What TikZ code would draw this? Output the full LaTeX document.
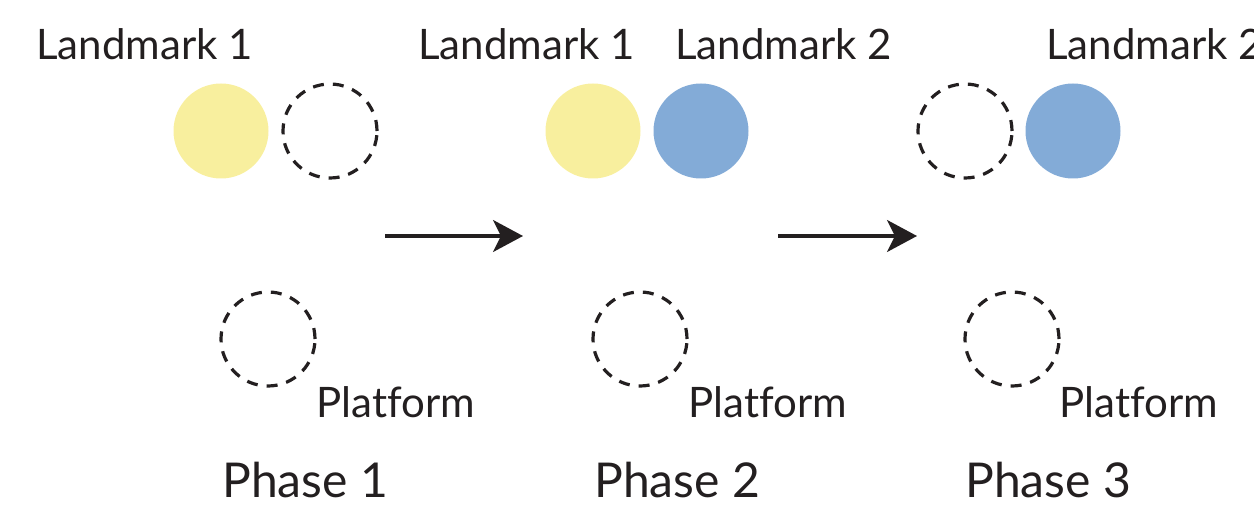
\documentclass[tikz,border=0pt]{standalone}
\usepackage{fontspec}
\setmainfont{Lato}[Ligatures={NoCommon}]
\usetikzlibrary{arrows.meta}
\definecolor{lmyellow}{HTML}{F8EF9E}
\definecolor{lmblue}{HTML}{83ABD7}
\definecolor{ink}{HTML}{231F20}
\begin{document}
\begin{tikzpicture}[x=0.5pt,y=-0.5pt,
  filledyellow/.style={circle,fill=lmyellow,minimum size=47.5pt,inner sep=0pt},
  filledblue/.style={circle,fill=lmblue,minimum size=47.5pt,inner sep=0pt},
  emptyspot/.style={circle,draw=ink,line width=1.6pt,dash pattern=on 5.5pt off 4.5pt,minimum size=47pt,inner sep=0pt},
  lbl/.style={anchor=base west,inner sep=0pt,text=ink,font=\fontsize{21}{24}\selectfont},
  phaselbl/.style={anchor=base west,inner sep=0pt,text=ink,font=\fontsize{24}{28}\selectfont},
  flow/.style={draw=ink,line width=1.6pt,-{Stealth[length=15pt,width=16pt,inset=4pt]}}]
\useasboundingbox (0,0) rectangle (1254,513);
% Phase 1
\node[lbl] (lm1a) at (36,60) {Landmark 1};
\node[filledyellow] (y1) at (221,131) {};
\node[emptyspot] (e1) at (330,131) {};
\node[emptyspot] (p1) at (268,339) {};
\node[lbl] (pl1) at (316,417) {Platform};
\node[phaselbl] (ph1) at (222,497) {Phase 1};
% Phase 2
\node[lbl] (lm1b) at (418,60) {Landmark 1};
\node[lbl] (lm2b) at (675,60) {Landmark 2};
\node[filledyellow] (y2) at (593,131) {};
\node[filledblue] (b2) at (701,131) {};
\node[emptyspot] (p2) at (640,339) {};
\node[lbl] (pl2) at (688,417) {Platform};
\node[phaselbl] (ph2) at (594,497) {Phase 2};
% Phase 3
\node[lbl] (lm2c) at (1046,60) {Landmark 2};
\node[emptyspot] (e3) at (965,131) {};
\node[filledblue] (b3) at (1073,131) {};
\node[emptyspot] (p3) at (1012,339) {};
\node[lbl] (pl3) at (1059,417) {Platform};
\node[phaselbl] (ph3) at (965,497) {Phase 3};
% arrows
\coordinate (a1s) at (385,236);
\coordinate (a1e) at (523,236);
\coordinate (a2s) at (778,236);
\coordinate (a2e) at (917,236);
\draw[flow] (a1s) -- (a1e);
\draw[flow] (a2s) -- (a2e);
\end{tikzpicture}
\end{document}
